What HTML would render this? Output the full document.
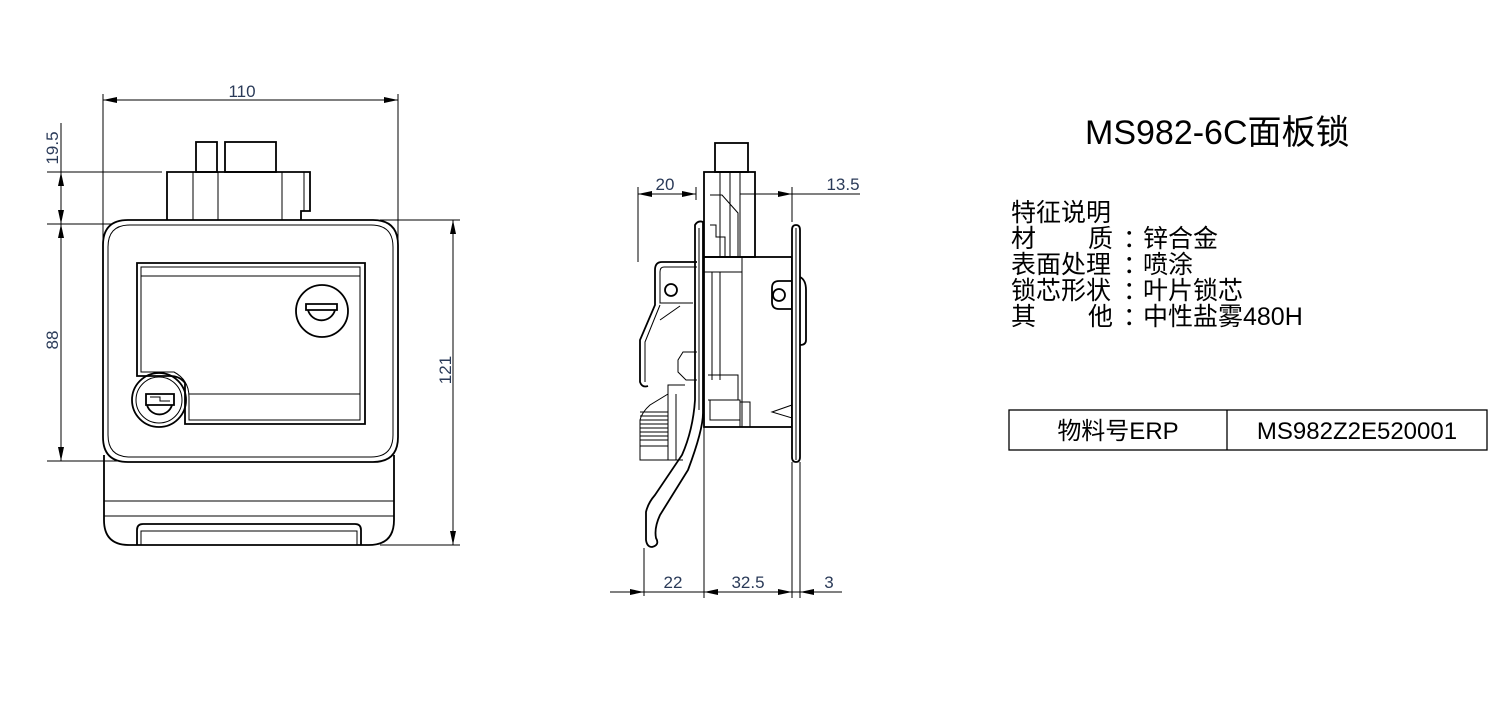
<!DOCTYPE html>
<html><head><meta charset="utf-8"><style>
html,body{margin:0;padding:0;background:#fff;}
svg{display:block;}
.t{font-family:"Liberation Sans","Noto Sans CJK SC",sans-serif;fill:#000;}
.d{font-family:"Liberation Sans",sans-serif;fill:#2a3a58;font-size:17px;}
</style></head><body>
<svg width="1506" height="719" viewBox="0 0 1506 719" xmlns="http://www.w3.org/2000/svg">
<defs>
<marker id="a" viewBox="0 0 14 6" refX="14" refY="3" markerWidth="14" markerHeight="6" markerUnits="userSpaceOnUse" orient="auto-start-reverse"><path d="M0,0 L14,3 L0,6z" fill="#000"/></marker>
</defs>
<g fill="none" stroke="#000" stroke-width="1">
<line x1="103" y1="94" x2="103" y2="440"/>
<line x1="398" y1="94" x2="398" y2="250"/>
<line x1="103" y1="100" x2="398" y2="100" marker-start="url(#a)" marker-end="url(#a)"/>
<line x1="47" y1="172" x2="162" y2="172"/>
<line x1="47" y1="224" x2="130" y2="224"/>
<line x1="47" y1="461" x2="130" y2="461"/>
<line x1="61" y1="123" x2="61" y2="172"/>
<line x1="61" y1="172" x2="61" y2="224" marker-start="url(#a)" marker-end="url(#a)"/>
<line x1="61" y1="224" x2="61" y2="461" marker-start="url(#a)" marker-end="url(#a)"/>
<line x1="380" y1="220" x2="460" y2="220"/>
<line x1="380" y1="545" x2="460" y2="545"/>
<line x1="453" y1="220" x2="453" y2="545" marker-start="url(#a)" marker-end="url(#a)"/>
</g>
<text class="d" x="242" y="97" text-anchor="middle">110</text>
<text class="d" transform="translate(58,148) rotate(-90)" text-anchor="middle">19.5</text>
<text class="d" transform="translate(58,340) rotate(-90)" text-anchor="middle">88</text>
<text class="d" transform="translate(451,370) rotate(-90)" text-anchor="middle">121</text>

<g fill="none" stroke="#000" stroke-width="1.8">
<rect x="196" y="142" width="21" height="30"/>
<rect x="225" y="142" width="51" height="30"/>
<path d="M167,224 V172 H310 V211 H301 V224"/>
<line x1="193" y1="172" x2="193" y2="224" stroke-width="1"/>
<line x1="218" y1="172" x2="218" y2="224" stroke-width="1"/>
<line x1="282" y1="172" x2="282" y2="224" stroke-width="1"/>
<line x1="304" y1="172" x2="304" y2="211" stroke-width="1"/>
<path d="M104,455 V520 Q104,545 129,545 H369 Q394,545 394,520 V455"/>
<line x1="104" y1="501" x2="394" y2="501" stroke-width="1"/>
<line x1="104" y1="516" x2="394" y2="516" stroke-width="1"/>
<path d="M137,545 V530 Q137,524 143,524 H355 Q361,524 361,530 V545"/>
<path d="M141,545 V531 H357 V545" stroke-width="1"/>
<path d="M128,220 H373 Q398,220 398,245 V437 Q398,462 373,462 H128 Q103,462 103,437 V245 Q103,220 128,220Z" fill="#fff"/>
<path d="M130,225 H371 Q393,225 393,247 V435 Q393,457 371,457 H130 Q108,457 108,435 V247 Q108,225 130,225Z" stroke-width="1"/>
<path d="M137,263 H365 V424 H185 V383 Q180,376 170,376 H137 Z"/>
<path d="M141,267 H360 V420 H189 V397 Q189,380 174,372 H141 Z" stroke-width="1"/>
<line x1="141" y1="276" x2="360" y2="276" stroke-width="1"/>
<line x1="189" y1="394" x2="360" y2="394" stroke-width="1"/>
<circle cx="322" cy="311" r="26"/>
<path d="M306,304 H337 V310 H306 Z M308,310 A14,14 0 0 0 335,310"/>
<circle cx="159" cy="400" r="27"/>
<circle cx="159" cy="400" r="23" stroke-width="1"/>
<path d="M146,394 H174 V405 H146 Z M147,405 A13,13 0 0 0 172,405" />
<path d="M150,397 H160 V401 H170" stroke-width="1"/>

<rect x="715" y="143" width="33" height="29"/>
<rect x="704" y="172" width="51" height="85"/>
<line x1="720" y1="172" x2="720" y2="257" stroke-width="1"/>
<line x1="730" y1="172" x2="730" y2="257" stroke-width="1"/>
<line x1="740" y1="172" x2="740" y2="257" stroke-width="1"/>
<path d="M710,195 H722 L738,213 V257" stroke-width="1"/>
<path d="M710,225 H716 V237 H725 V257" stroke-width="1"/>
<rect x="704" y="257" width="88" height="170"/>
<line x1="742" y1="262" x2="742" y2="427" stroke-width="1"/>
<rect x="704" y="257" width="38" height="15" stroke-width="1"/>
<line x1="712" y1="272" x2="712" y2="380" stroke-width="1"/>
<line x1="720" y1="272" x2="720" y2="380" stroke-width="1"/>
<path d="M708,375 H738 V400 H708" stroke-width="1"/>
<rect x="710" y="400" width="30" height="20" stroke-width="1"/>
<rect x="740" y="402" width="10" height="25" stroke-width="1"/>
<path d="M772,412 L792,405 V418 Z" stroke-width="1"/>
<path d="M772,288 Q772,281 779,281 H792 V309 H779 Q772,309 772,302 Z"/>
<circle cx="779" cy="295" r="6"/>
<path d="M792,230 Q792,225 796,225 Q800,225 800,230 V457 Q800,462 796,462 Q792,462 792,457 Z" fill="#fff"/>
<line x1="796" y1="228" x2="796" y2="460" stroke-width="1"/>
<path d="M800,277 Q806,280 806,290 V340 Q806,345 800,345" />
<path d="M695,225 Q698,220 703,222 V413 Q703,430 688,470 L660,515 Q654,528 656,538 Q660,545 652,547 Q647,547 646,540 V512 Q648,503 655,495 L682,455 Q693,430 695,400 Z" fill="#fff"/>
<line x1="699" y1="228" x2="699" y2="410" stroke-width="1"/>
<path d="M697,262 H662 Q655,262 655,270 V305 L640,340 V382 Q642,388 648,386"/>
<path d="M697,267 H664 Q660,267 660,272 V303 H693" stroke-width="1"/>
<path d="M660,305 L645,342 V382" stroke-width="1"/>
<line x1="660" y1="320" x2="680" y2="306" stroke-width="1"/>
<circle cx="671" cy="290" r="6"/>
<path d="M697,352 H683 L678,360 V372 L686,380 H697" stroke-width="1"/>
<path d="M685,385 H668 V394 L650,405 Q642,412 640,420 V460 H683" stroke-width="1"/>
<g stroke-width="1">
<line x1="640" y1="412" x2="668" y2="412"/><line x1="640" y1="416" x2="668" y2="416"/>
<line x1="640" y1="420" x2="668" y2="420"/><line x1="640" y1="424" x2="668" y2="424"/>
<line x1="640" y1="428" x2="668" y2="428"/><line x1="640" y1="432" x2="668" y2="432"/>
<line x1="640" y1="436" x2="668" y2="436"/><line x1="640" y1="440" x2="668" y2="440"/>
<line x1="640" y1="446" x2="668" y2="446"/>
<line x1="668" y1="394" x2="668" y2="460"/><line x1="676" y1="394" x2="676" y2="460"/>
</g>
</g>
<g fill="none" stroke="#000" stroke-width="1">
<line x1="638" y1="187" x2="638" y2="262"/>
<line x1="696" y1="187" x2="696" y2="200"/>
<line x1="638" y1="194" x2="696" y2="194" marker-start="url(#a)" marker-end="url(#a)"/>
<line x1="792" y1="187" x2="792" y2="222"/>
<line x1="740" y1="194" x2="792" y2="194" marker-end="url(#a)"/>
<line x1="792" y1="194" x2="860" y2="194"/>
<line x1="644" y1="548" x2="644" y2="596"/>
<line x1="704" y1="427" x2="704" y2="598"/>
<line x1="792" y1="462" x2="792" y2="598"/>
<line x1="800" y1="462" x2="800" y2="598"/>
<line x1="610" y1="592" x2="644" y2="592" marker-end="url(#a)"/>
<line x1="644" y1="592" x2="704" y2="592"/>
<line x1="704" y1="592" x2="792" y2="592" marker-start="url(#a)" marker-end="url(#a)"/>
<line x1="792" y1="592" x2="800" y2="592"/>
<line x1="800" y1="592" x2="842" y2="592"/>
<line x1="820" y1="592" x2="800" y2="592" marker-end="url(#a)"/>
</g>
<text class="d" x="665" y="190" text-anchor="middle">20</text>
<text class="d" x="843" y="190" text-anchor="middle">13.5</text>
<text class="d" x="673" y="588" text-anchor="middle">22</text>
<text class="d" x="748" y="588" text-anchor="middle">32.5</text>
<text class="d" x="829" y="588" text-anchor="middle">3</text>

<text class="t" x="1085" y="144" font-size="34">MS982-6C面板锁</text>
<g class="t" font-size="25">
<text x="1011" y="221">特征说明</text>
<text x="1011" y="247">材</text><text x="1088" y="247">质</text>
<text x="1011" y="273">表面处理</text>
<text x="1011" y="299">锁芯形状</text>
<text x="1011" y="325">其</text><text x="1088" y="325">他</text>
<text x="1123" y="247">：</text><text x="1123" y="273">：</text><text x="1123" y="299">：</text><text x="1123" y="325">：</text>
<text x="1143" y="247">锌合金</text>
<text x="1143" y="273">喷涂</text>
<text x="1143" y="299">叶片锁芯</text>
<text x="1143" y="325">中性盐雾480H</text>
</g>
<rect x="1009" y="410" width="478" height="40" fill="none" stroke="#000" stroke-width="1.3"/>
<line x1="1227" y1="410" x2="1227" y2="450" stroke="#000" stroke-width="1.3"/>
<text class="t" x="1118" y="439" font-size="24" text-anchor="middle">物料号ERP</text>
<text class="t" x="1357" y="439" font-size="24" text-anchor="middle">MS982Z2E520001</text>
</svg>
</body></html>
